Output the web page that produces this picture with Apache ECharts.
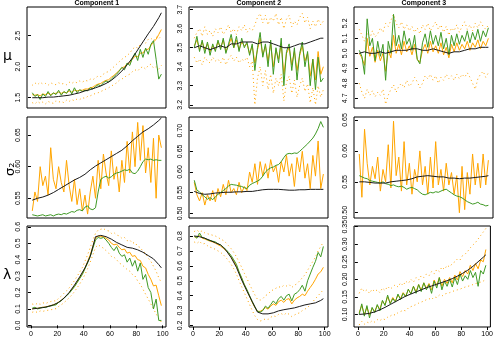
<!DOCTYPE html>
<html>
<head>
<meta charset="utf-8">
<script src="https://cdn.jsdelivr.net/npm/echarts@6/dist/echarts.min.js"></script>
<style>
  html, body { margin: 0; padding: 0; background: #fff; }
  #chart { width: 496px; height: 339px; }
</style>
</head>
<body>
<div id="chart"></div>
<script>
// x positions: noisy series every 2 steps, smooth (black) curves every 4
const xFine = [1,3,5,7,9,11,13,15,17,19,21,23,25,27,29,31,33,35,37,39,41,43,45,47,49,
  51,53,55,57,59,61,63,65,67,69,71,73,75,77,79,81,83,85,87,89,91,93,95,97,99];
const xCoarse = [1,5,9,13,17,21,25,29,33,37,41,45,49,53,57,61,65,69,73,77,81,85,89,93,97,99];
const xTicks = [0, 20, 40, 60, 80, 100];

// ---- mu, component 1
const mu1Black = [1.50,1.50,1.50,1.51,1.51,1.52,1.53,1.54,1.56,1.58,1.61,1.63,1.66,1.69,1.73,1.78,1.85,1.93,2.03,2.14,2.27,2.40,2.53,2.65,2.79,2.87];
const mu1Green = [1.58,1.52,1.55,1.47,1.56,1.52,1.60,1.53,1.58,1.55,1.62,1.54,1.60,1.57,1.64,1.56,1.66,1.58,1.63,1.60,
  1.62,1.61,1.66,1.64,1.68,1.71,1.69,1.74,1.77,1.75,1.80,1.84,1.88,1.93,1.99,1.95,2.06,2.02,2.14,2.22,
  2.10,2.28,2.15,2.30,2.20,2.36,2.42,2.12,1.80,1.88];
const mu1Orange = [1.55,1.54,1.55,1.53,1.56,1.55,1.57,1.55,1.57,1.57,1.59,1.57,1.59,1.58,1.61,1.59,1.62,1.61,1.62,1.62,
  1.64,1.64,1.66,1.67,1.70,1.72,1.73,1.76,1.78,1.79,1.83,1.86,1.90,1.94,1.98,2.00,2.05,2.06,2.12,2.17,
  2.16,2.22,2.22,2.28,2.28,2.34,2.40,2.44,2.52,2.60];
const mu1Hi = [1.70,1.74,1.71,1.75,1.72,1.73,1.70,1.74,1.72,1.71,1.74,1.72,1.73,1.71,1.75,1.73,1.76,1.74,1.77,1.75,
  1.78,1.77,1.80,1.79,1.82,1.85,1.84,1.88,1.91,1.92,1.96,2.00,2.04,2.08,2.12,2.15,2.18,2.22,2.28,2.32,
  2.30,2.36,2.40,2.38,2.44,2.46,2.42,2.48,2.45,2.50];
const mu1Lo = [1.42,1.40,1.44,1.41,1.43,1.40,1.44,1.42,1.41,1.45,1.43,1.44,1.42,1.46,1.44,1.47,1.45,1.48,1.47,1.50,
  1.49,1.52,1.53,1.55,1.57,1.58,1.60,1.62,1.64,1.66,1.69,1.71,1.74,1.78,1.80,1.83,1.86,1.88,1.92,1.95,
  1.93,1.98,2.00,1.96,2.02,2.04,1.98,2.00,1.96,2.02];
const mu1Ticks = [1.5, 2.0, 2.5];

// ---- mu, component 2
const mu2Black = [3.50,3.51,3.50,3.49,3.50,3.51,3.50,3.52,3.52,3.53,3.53,3.53,3.52,3.53,3.53,3.52,3.51,3.50,3.50,3.51,3.52,3.52,3.53,3.54,3.55,3.55];
const mu2Green = [3.50,3.56,3.48,3.54,3.47,3.53,3.46,3.52,3.48,3.54,3.49,3.55,3.47,3.52,3.57,3.50,3.56,3.48,3.55,3.50,
  3.53,3.46,3.52,3.38,3.50,3.58,3.45,3.52,3.40,3.54,3.36,3.50,3.42,3.55,3.30,3.48,3.52,3.38,3.50,3.33,
  3.47,3.53,3.40,3.48,3.30,3.44,3.28,3.45,3.32,3.34];
const mu2Orange = [3.51,3.54,3.49,3.53,3.49,3.52,3.48,3.51,3.49,3.53,3.50,3.54,3.48,3.51,3.55,3.50,3.54,3.49,3.53,3.51,
  3.52,3.47,3.51,3.42,3.49,3.55,3.46,3.51,3.43,3.52,3.40,3.49,3.44,3.52,3.36,3.47,3.50,3.41,3.48,3.38,
  3.46,3.51,3.43,3.47,3.35,3.44,3.33,3.48,3.36,3.40];
const mu2Hi = [3.55,3.58,3.60,3.56,3.61,3.57,3.59,3.56,3.60,3.58,3.61,3.57,3.59,3.62,3.58,3.60,3.57,3.61,3.59,3.62,
  3.58,3.60,3.59,3.62,3.66,3.68,3.63,3.67,3.62,3.66,3.64,3.68,3.62,3.66,3.60,3.65,3.67,3.61,3.64,3.62,
  3.66,3.68,3.63,3.66,3.60,3.64,3.61,3.65,3.62,3.64];
const mu2Lo = [3.45,3.42,3.44,3.41,3.45,3.43,3.42,3.45,3.43,3.44,3.42,3.45,3.41,3.44,3.46,3.43,3.45,3.42,3.44,3.43,
  3.45,3.40,3.43,3.20,3.34,3.40,3.30,3.38,3.28,3.36,3.26,3.34,3.30,3.36,3.22,3.32,3.35,3.26,3.33,3.24,
  3.30,3.34,3.27,3.31,3.21,3.29,3.20,3.30,3.24,3.28];
const mu2Ticks = [3.2, 3.3, 3.4, 3.5, 3.6, 3.7];

// ---- mu, component 3
const mu3Black = [5.00,5.01,5.00,5.00,5.01,5.00,5.01,5.02,5.02,5.02,5.03,5.03,5.02,5.02,5.03,5.02,5.01,5.00,5.01,5.01,5.02,5.03,5.03,5.04,5.04,5.04];
const mu3Green = [5.02,4.98,4.86,5.23,5.05,5.10,4.95,5.08,4.98,5.06,4.82,5.08,5.00,5.26,5.05,5.12,5.03,5.15,5.06,5.10,
  5.02,5.12,4.96,4.93,5.07,5.13,5.04,5.15,5.06,5.12,5.05,5.14,5.03,5.10,4.99,5.12,5.05,5.13,5.06,5.12,
  5.08,5.15,5.07,5.14,5.09,5.16,5.08,5.15,5.11,5.17];
const mu3Orange = [5.00,4.97,4.92,5.10,4.98,5.04,4.94,5.02,4.95,5.00,4.88,5.02,4.97,5.12,5.00,5.06,4.99,5.08,5.01,5.05,
  4.99,5.06,4.96,4.94,5.02,5.06,5.00,5.08,5.01,5.05,5.00,5.07,4.99,5.04,4.97,5.06,5.01,5.07,5.02,5.06,
  5.03,5.08,5.02,5.07,5.04,5.09,5.03,5.08,5.05,5.10];
const mu3Hi = [5.16,5.12,5.08,5.14,5.10,5.15,5.11,5.13,5.17,5.14,5.20,5.18,5.22,5.26,5.20,5.17,5.21,5.16,5.19,5.15,
  5.18,5.14,5.17,5.13,5.19,5.16,5.20,5.15,5.18,5.21,5.16,5.19,5.14,5.18,5.12,5.17,5.15,5.19,5.14,5.18,
  5.21,5.16,5.19,5.15,5.20,5.17,5.21,5.18,5.16,5.19];
const mu3Lo = [4.80,4.74,4.70,4.76,4.72,4.75,4.71,4.74,4.72,4.76,4.66,4.72,4.76,4.79,4.74,4.78,4.80,4.77,4.82,4.78,
  4.80,4.84,4.81,4.77,4.80,4.85,4.83,4.86,4.82,4.85,4.80,4.84,4.82,4.86,4.83,4.85,4.82,4.86,4.83,4.86,
  4.84,4.87,4.84,4.80,4.76,4.83,4.86,4.88,4.84,4.87];
const mu3Ticks = [4.7, 4.8, 4.9, 5.0, 5.1, 5.2];

// ---- sigma2, component 1
const sg1Black = [0.547,0.550,0.552,0.555,0.559,0.564,0.569,0.574,0.579,0.583,0.588,0.595,0.601,0.606,0.611,0.616,0.621,0.626,0.633,0.641,0.648,0.655,0.660,0.666,0.673,0.677];
const sg1Green = [0.524,0.523,0.522,0.523,0.524,0.522,0.523,0.524,0.522,0.524,0.525,0.524,0.526,0.525,0.527,0.529,0.528,0.531,0.532,0.530,
  0.536,0.538,0.533,0.532,0.535,0.560,0.580,0.583,0.585,0.582,0.584,0.588,0.590,0.591,0.593,0.595,0.594,0.596,0.590,0.589,
  0.593,0.600,0.608,0.612,0.611,0.612,0.610,0.611,0.610,0.610];
const sg1Orange = [0.530,0.560,0.545,0.600,0.570,0.585,0.555,0.630,0.580,0.565,0.600,0.575,0.560,0.610,0.570,0.545,0.580,0.540,0.565,0.530,
  0.555,0.525,0.560,0.585,0.550,0.610,0.565,0.620,0.590,0.570,0.625,0.580,0.600,0.560,0.610,0.575,0.640,0.590,0.655,0.600,
  0.670,0.610,0.665,0.590,0.630,0.575,0.645,0.550,0.650,0.630];
const sg1Ticks = [0.55, 0.60, 0.65];

// ---- sigma2, component 2
const sg2Black = [0.553,0.548,0.546,0.547,0.549,0.550,0.551,0.551,0.552,0.552,0.553,0.553,0.555,0.557,0.558,0.558,0.558,0.557,0.556,0.556,0.557,0.557,0.558,0.558,0.558,0.558];
const sg2Green = [0.580,0.556,0.552,0.545,0.540,0.534,0.538,0.533,0.540,0.546,0.550,0.555,0.560,0.566,0.570,0.569,0.568,0.566,0.565,0.562,
  0.560,0.568,0.572,0.575,0.578,0.582,0.590,0.600,0.606,0.610,0.612,0.616,0.618,0.625,0.635,0.643,0.645,0.644,0.646,0.645,
  0.650,0.656,0.662,0.668,0.675,0.682,0.692,0.705,0.722,0.708];
const sg2Orange = [0.575,0.545,0.530,0.550,0.520,0.545,0.530,0.555,0.528,0.560,0.540,0.570,0.545,0.580,0.550,0.560,0.545,0.575,0.550,0.565,
  0.555,0.600,0.575,0.620,0.570,0.625,0.590,0.620,0.585,0.630,0.600,0.615,0.575,0.625,0.600,0.640,0.590,0.620,0.565,0.635,
  0.600,0.650,0.585,0.620,0.560,0.640,0.590,0.675,0.560,0.595];
const sg2Ticks = [0.50, 0.55, 0.60, 0.65, 0.70];

// ---- sigma2, component 3
const sg3Black = [0.550,0.550,0.549,0.548,0.548,0.548,0.550,0.551,0.552,0.553,0.555,0.558,0.559,0.560,0.559,0.558,0.558,0.556,0.556,0.555,0.556,0.556,0.557,0.558,0.559,0.560];
const sg3Green = [0.560,0.558,0.556,0.555,0.552,0.551,0.550,0.549,0.548,0.550,0.547,0.546,0.544,0.545,0.543,0.542,0.543,0.541,0.538,0.540,
  0.541,0.539,0.537,0.533,0.530,0.529,0.531,0.533,0.532,0.534,0.533,0.535,0.537,0.538,0.535,0.532,0.529,0.527,0.526,0.524,
  0.521,0.518,0.516,0.514,0.515,0.517,0.514,0.513,0.511,0.512];
const sg3Orange = [0.595,0.525,0.635,0.580,0.545,0.575,0.555,0.590,0.535,0.570,0.550,0.610,0.540,0.648,0.560,0.590,0.535,0.615,0.545,0.580,
  0.530,0.570,0.550,0.600,0.545,0.575,0.530,0.590,0.540,0.615,0.545,0.570,0.535,0.580,0.545,0.565,0.530,0.560,0.500,0.575,
  0.505,0.565,0.530,0.595,0.545,0.580,0.540,0.595,0.545,0.585];
const sg3Ticks = [0.50, 0.55, 0.60, 0.65];

// ---- lambda, component 1
const la1Black = [0.100,0.104,0.108,0.115,0.125,0.140,0.165,0.200,0.245,0.295,0.350,0.420,0.540,0.548,0.540,0.525,0.505,0.490,0.475,0.470,0.460,0.445,0.425,0.405,0.370,0.350];
const la1Green = [0.105,0.110,0.100,0.105,0.110,0.108,0.115,0.118,0.122,0.125,0.140,0.150,0.165,0.180,0.195,0.215,0.235,0.260,0.285,0.310,
  0.345,0.380,0.420,0.470,0.520,0.535,0.530,0.535,0.520,0.500,0.475,0.455,0.480,0.440,0.420,0.430,0.385,0.410,0.360,0.395,
  0.330,0.380,0.280,0.310,0.230,0.200,0.100,0.160,0.030,0.030];
const la1Orange = [0.100,0.105,0.103,0.108,0.110,0.112,0.116,0.120,0.125,0.130,0.142,0.152,0.167,0.182,0.198,0.218,0.238,0.262,0.288,0.315,
  0.350,0.388,0.430,0.480,0.530,0.545,0.540,0.540,0.530,0.520,0.500,0.490,0.495,0.475,0.460,0.465,0.440,0.445,0.420,0.425,
  0.400,0.395,0.360,0.350,0.310,0.280,0.240,0.245,0.180,0.120];
const la1Hi = [0.130,0.125,0.135,0.128,0.138,0.132,0.140,0.145,0.150,0.148,0.165,0.178,0.195,0.210,0.228,0.250,0.272,0.298,0.325,0.352,
  0.390,0.430,0.475,0.520,0.560,0.580,0.585,0.590,0.578,0.575,0.560,0.565,0.550,0.545,0.530,0.535,0.515,0.520,0.500,0.505,
  0.480,0.475,0.450,0.440,0.410,0.390,0.360,0.330,0.290,0.260];
const la1Lo = [0.080,0.085,0.078,0.088,0.085,0.090,0.092,0.095,0.098,0.102,0.115,0.125,0.138,0.152,0.168,0.185,0.205,0.228,0.252,0.278,
  0.310,0.345,0.385,0.430,0.475,0.490,0.480,0.470,0.455,0.440,0.420,0.415,0.400,0.380,0.370,0.355,0.340,0.330,0.310,0.300,
  0.270,0.250,0.220,0.190,0.160,0.130,0.100,0.070,0.040,0.020];
const la1Ticks = [0.0, 0.1, 0.2, 0.3, 0.4, 0.5, 0.6];

// ---- lambda, component 2
const la2Black = [0.800,0.795,0.785,0.770,0.755,0.740,0.705,0.655,0.590,0.505,0.430,0.360,0.290,0.278,0.278,0.285,0.298,0.306,0.312,0.318,0.328,0.338,0.345,0.352,0.368,0.380];
const la2Green = [0.800,0.785,0.820,0.790,0.785,0.775,0.770,0.765,0.760,0.748,0.740,0.725,0.710,0.690,0.668,0.640,0.610,0.560,0.520,0.475,
  0.440,0.400,0.360,0.325,0.295,0.290,0.300,0.330,0.315,0.340,0.365,0.345,0.380,0.395,0.370,0.400,0.410,0.365,0.410,0.420,
  0.440,0.470,0.430,0.500,0.545,0.590,0.630,0.690,0.660,0.730];
const la2Orange = [0.795,0.790,0.805,0.785,0.780,0.772,0.765,0.760,0.752,0.742,0.732,0.718,0.702,0.682,0.658,0.630,0.598,0.555,0.515,0.472,
  0.435,0.395,0.355,0.320,0.295,0.295,0.305,0.320,0.310,0.330,0.345,0.335,0.360,0.370,0.355,0.375,0.380,0.345,0.370,0.385,
  0.395,0.410,0.400,0.430,0.455,0.480,0.510,0.545,0.560,0.590];
const la2Hi = [0.830,0.840,0.825,0.835,0.820,0.815,0.810,0.805,0.800,0.790,0.780,0.770,0.755,0.735,0.715,0.690,0.660,0.625,0.590,0.550,
  0.515,0.475,0.440,0.405,0.375,0.370,0.380,0.400,0.410,0.430,0.440,0.450,0.460,0.455,0.470,0.465,0.475,0.455,0.470,0.480,
  0.500,0.520,0.540,0.570,0.600,0.630,0.660,0.700,0.730,0.760];
const la2Lo = [0.760,0.750,0.765,0.745,0.750,0.735,0.725,0.720,0.710,0.700,0.690,0.675,0.655,0.635,0.610,0.580,0.545,0.500,0.460,0.420,
  0.380,0.340,0.300,0.265,0.240,0.230,0.235,0.245,0.240,0.255,0.265,0.260,0.275,0.280,0.270,0.285,0.275,0.260,0.270,0.280,
  0.285,0.300,0.310,0.320,0.340,0.360,0.380,0.400,0.420,0.440];
const la2Ticks = [0.2, 0.3, 0.4, 0.5, 0.6, 0.7, 0.8];

// ---- lambda, component 3
const la3Black = [0.100,0.101,0.103,0.107,0.113,0.120,0.128,0.136,0.144,0.152,0.158,0.164,0.170,0.176,0.181,0.186,0.191,0.196,0.202,0.209,0.217,0.226,0.237,0.250,0.263,0.270];
const la3Green = [0.100,0.130,0.095,0.125,0.090,0.120,0.105,0.128,0.110,0.140,0.125,0.155,0.130,0.145,0.135,0.158,0.142,0.160,0.150,0.172,
  0.158,0.180,0.160,0.185,0.165,0.190,0.170,0.185,0.160,0.195,0.175,0.205,0.170,0.195,0.180,0.200,0.178,0.205,0.185,0.215,
  0.195,0.210,0.200,0.225,0.205,0.220,0.180,0.225,0.215,0.240];
const la3Orange = [0.105,0.125,0.100,0.120,0.098,0.118,0.108,0.125,0.115,0.138,0.128,0.150,0.132,0.148,0.138,0.155,0.145,0.162,0.152,0.170,
  0.160,0.180,0.165,0.185,0.170,0.190,0.175,0.188,0.170,0.198,0.182,0.205,0.180,0.200,0.188,0.205,0.190,0.212,0.198,0.222,
  0.208,0.225,0.215,0.240,0.225,0.245,0.230,0.255,0.250,0.285];
const la3Hi = [0.160,0.175,0.165,0.170,0.160,0.172,0.165,0.170,0.162,0.175,0.168,0.180,0.172,0.178,0.185,0.178,0.190,0.182,0.195,0.188,
  0.200,0.192,0.205,0.198,0.210,0.205,0.215,0.210,0.222,0.215,0.228,0.222,0.235,0.228,0.240,0.235,0.245,0.250,0.258,0.255,
  0.268,0.272,0.280,0.290,0.298,0.305,0.315,0.325,0.335,0.345];
const la3Lo = [0.070,0.080,0.072,0.078,0.075,0.082,0.078,0.085,0.082,0.088,0.085,0.092,0.095,0.100,0.098,0.105,0.108,0.112,0.110,0.118,
  0.122,0.125,0.128,0.132,0.135,0.138,0.142,0.145,0.142,0.150,0.148,0.155,0.152,0.158,0.160,0.162,0.165,0.168,0.170,0.172,
  0.175,0.178,0.180,0.182,0.185,0.188,0.190,0.192,0.195,0.200];
const la3Ticks = [0.10, 0.15, 0.20, 0.25, 0.30, 0.35];

const titles = ['Component 1', 'Component 2', 'Component 3'];
const rowNames = ['μ', 'σ₂', 'λ'];

const panels = [
  { black: mu1Black, green: mu1Green, orange: mu1Orange, hi: mu1Hi, lo: mu1Lo, ticks: mu1Ticks, dec: 1, min: 1.334, max: 2.963 },
  { black: mu2Black, green: mu2Green, orange: mu2Orange, hi: mu2Hi, lo: mu2Lo, ticks: mu2Ticks, dec: 1, min: 3.183, max: 3.714 },
  { black: mu3Black, green: mu3Green, orange: mu3Orange, hi: mu3Hi, lo: mu3Lo, ticks: mu3Ticks, dec: 1, min: 4.635, max: 5.309 },
  { black: sg1Black, green: sg1Green, orange: sg1Orange, ticks: sg1Ticks, dec: 2, min: 0.5188, max: 0.6786 },
  { black: sg2Black, green: sg2Green, orange: sg2Orange, ticks: sg2Ticks, dec: 2, min: 0.4887, max: 0.733 },
  { black: sg3Black, green: sg3Green, orange: sg3Orange, ticks: sg3Ticks, dec: 2, min: 0.4915, max: 0.6548 },
  { black: la1Black, green: la1Green, orange: la1Orange, hi: la1Hi, lo: la1Lo, ticks: la1Ticks, dec: 1, min: -0.01, max: 0.605 },
  { black: la2Black, green: la2Green, orange: la2Orange, hi: la2Hi, lo: la2Lo, ticks: la2Ticks, dec: 1, min: 0.19, max: 0.867 },
  { black: la3Black, green: la3Green, orange: la3Orange, hi: la3Hi, lo: la3Lo, ticks: la3Ticks, dec: 2, min: 0.064, max: 0.352 }
];

// layout of the 3x3 plot boxes
const colLeft = [27, 189, 354];
const rowTop = [7, 117, 226];
const boxW = 139, boxH = 101;

const GREEN = '#3f9a25';
const ORANGE = '#ffa500';
const BLACK = '#1a1a1a';
const FONT = 'Liberation Sans, Arial, sans-serif';

function pairs(xs, ys) {
  return xs.map(function (x, i) { return [x, ys[i]]; });
}

const myChart = echarts.init(document.getElementById('chart'));

const grid = [], xAxis = [], yAxis = [], series = [];

panels.forEach(function (p, i) {
  const r = Math.floor(i / 3), c = i % 3;
  const bottom = r === 2;
  grid.push({
    left: colLeft[c], top: rowTop[r], width: boxW, height: boxH,
    show: true, borderColor: '#000', borderWidth: 1, backgroundColor: 'transparent'
  });
  xAxis.push({
    type: 'value', gridIndex: i, min: -3, max: 102.5,
    axisLine: { show: false },
    splitLine: { show: false },
    axisTick: { show: bottom, length: 3, inside: false, customValues: xTicks, lineStyle: { color: '#000' } },
    axisLabel: { show: bottom, customValues: xTicks, fontSize: 7, color: '#000', margin: 4, fontFamily: FONT }
  });
  yAxis.push({
    type: 'value', gridIndex: i, min: p.min, max: p.max,
    axisLine: { show: false },
    splitLine: { show: false },
    axisTick: { show: true, length: 3, customValues: p.ticks, lineStyle: { color: '#000' } },
    axisLabel: {
      customValues: p.ticks, rotate: 90, fontSize: 7, color: '#000', margin: 5, fontFamily: FONT,
      formatter: function (v) { return Number(v).toFixed(p.dec); }
    }
  });
  const base = { type: 'line', xAxisIndex: i, yAxisIndex: i, showSymbol: false, symbol: 'none', silent: true };
  if (p.hi) {
    // dotted bands (R lty 3 look)
    series.push(Object.assign({}, base, { data: pairs(xFine, p.hi), lineStyle: { color: ORANGE, width: 1, type: [1, 3] } }));
    series.push(Object.assign({}, base, { data: pairs(xFine, p.lo), lineStyle: { color: ORANGE, width: 1, type: [1, 3] } }));
  }
  series.push(Object.assign({}, base, { data: pairs(xFine, p.orange), lineStyle: { color: ORANGE, width: 1 } }));
  series.push(Object.assign({}, base, { data: pairs(xFine, p.green), lineStyle: { color: GREEN, width: 1 } }));
  series.push(Object.assign({}, base, { data: pairs(xCoarse, p.black), lineStyle: { color: BLACK, width: 1 } }));
});

const graphic = [];
titles.forEach(function (t, c) {
  graphic.push({
    type: 'text', left: colLeft[c] + boxW / 2 - 22, top: 0,
    style: { text: t, font: 'bold 7px ' + FONT, fill: '#000' }
  });
});
// row labels (mu and lambda upright, sigma2 turned like an R ylab)
graphic.push({ type: 'text', x: 3, y: 49, style: { text: rowNames[0], font: '14px DejaVu Sans', fill: '#000' } });
graphic.push({ type: 'text', x: 4, y: 176, rotation: Math.PI / 2, style: { text: rowNames[1], font: '13px DejaVu Sans', fill: '#000' } });
graphic.push({ type: 'text', x: 3, y: 268, style: { text: rowNames[2], font: '14px DejaVu Sans', fill: '#000' } });

const option = {
  animation: false,
  backgroundColor: '#fff',
  grid: grid,
  xAxis: xAxis,
  yAxis: yAxis,
  series: series,
  graphic: graphic
};

myChart.setOption(option);
</script>
</body>
</html>
